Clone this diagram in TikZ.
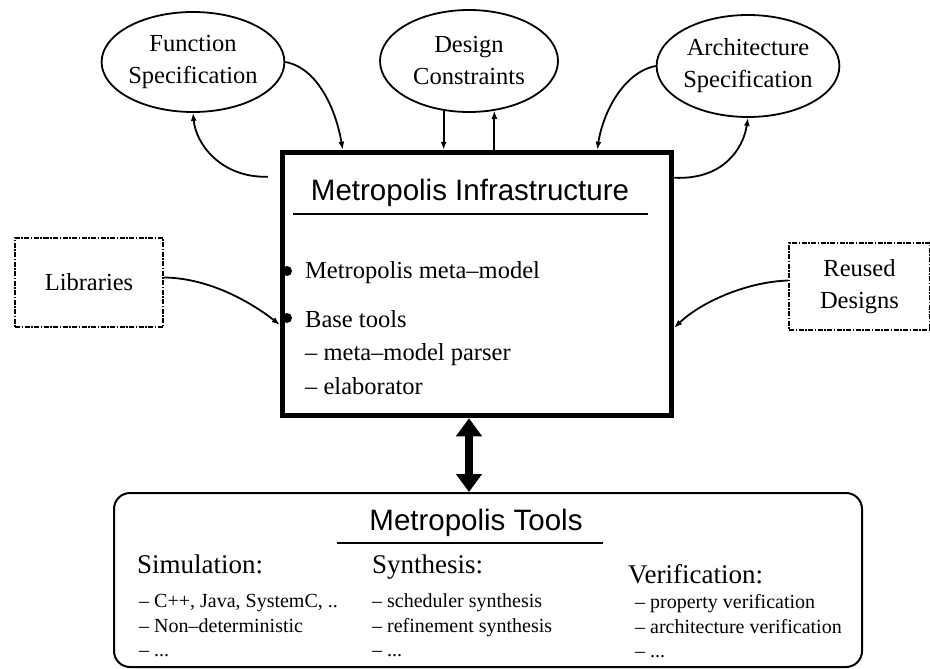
\documentclass[tikz,border=0pt]{standalone}
\usepackage{fontspec}
\setmainfont{Liberation Serif}
\newfontfamily\hvfont{Liberation Sans}
\usetikzlibrary{arrows.meta,shapes.geometric}
\begin{document}
\begin{tikzpicture}[x=1pt,y=-1pt,
 ell/.style={draw,ellipse,line width=1.8pt,minimum width=178pt,minimum height=100pt,inner sep=0pt,align=center,font=\fontsize{24.5}{32}\selectfont},
 dbox/.style={draw,line width=1.8pt,dash pattern=on 5pt off 1.5pt on 1.5pt off 1.5pt,inner sep=0pt,align=center,font=\fontsize{24.5}{32}\selectfont},
 conn/.style={line width=1.8pt,-{Latex[length=8pt,width=6pt]}},
 big/.style={inner sep=0pt,anchor=base,font=\hvfont\fontsize{29.5}{34}\selectfont},
 item/.style={anchor=base west,inner sep=0pt,font=\fontsize{24.5}{28}\selectfont},
 head/.style={anchor=base west,inner sep=0pt,font=\fontsize{27}{30}\selectfont},
 sub/.style={anchor=base west,inner sep=0pt,font=\fontsize{20}{24}\selectfont},
]
\useasboundingbox (0,0) rectangle (930,669);

% top ellipses
\node[ell,minimum width=180pt] (fs) at (193,62) {Function\\Specification};
\node[ell,minimum height=102pt] (dc) at (469,61) {Design\\Constraints};
\node[ell,minimum height=102pt] (as) at (748,66) {Architecture\\Specification};

% main box
\node[draw,line width=5.5pt,minimum width=389pt,minimum height=263pt,inner sep=0pt] (main) at (477,284) {};
\node[big] (mtitle) at (470,200) {Metropolis Infrastructure};
\coordinate (ul1) at (293,214);
\coordinate (ur1) at (648,214);
\draw[line width=1.8pt] (ul1) -- (ur1);

\fill (287,271) circle (5pt);
\fill (287,318) circle (5pt);
\node[item] (i1) at (305,278) {Metropolis meta–model};
\node[item] (i2) at (305,327) {Base tools};
\node[item] (i3) at (305,360) {– meta–model parser};
\node[item] (i4) at (305,394) {– elaborator};

% side boxes
\node[dbox,minimum width=148pt,minimum height=89pt] (lib) at (89,282.5) {Libraries};
\node[dbox,minimum width=141pt,minimum height=87pt,text width=100pt] (reu) at (859.5,286.5) {Reused\\Designs};

% tools box
\node[draw,line width=2pt,rounded corners=16pt,minimum width=748pt,minimum height=174pt,inner sep=0pt] (tools) at (488,580) {};
\node[big] (ttitle) at (476,530) {Metropolis Tools};
\coordinate (ul2) at (337,543);
\coordinate (ur2) at (603,543);
\draw[line width=1.8pt] (ul2) -- (ur2);

\node[head] (h1) at (137,573) {Simulation:};
\node[sub] (s11) at (139,607) {– C++, Java, SystemC, ..};
\node[sub] (s12) at (139,632) {– Non–deterministic};
\node[sub] (s13) at (139,656) {– ...};

\node[head] (h2) at (372,573) {Synthesis:};
\node[sub] (s21) at (372,607) {– scheduler synthesis};
\node[sub] (s22) at (372,632) {– refinement synthesis};
\node[sub] (s23) at (372,656) {– ...};

\node[head] (h3) at (628,583) {Verification:};
\node[sub] (s31) at (635,608) {– property verification};
\node[sub] (s32) at (635,633) {– architecture verification};
\node[sub] (s33) at (635,657) {– ...};

% connectors
\draw[conn] (fs.east) .. controls (318,68) and (336,110) .. ([xshift=63pt]main.north west);
\draw[conn] ([xshift=-12pt,yshift=-27pt]main.north west) .. controls (222,178) and (196,145) .. (fs.south);
\draw[conn] (dc.-117) -- (dc.-117 |- main.north);
\draw[conn] (dc.-63 |- main.north) -- (dc.-63);
\draw[conn] (as.west) .. controls (624,72) and (603,112) .. ([xshift=-77pt]main.north east);
\draw[conn] ([yshift=-28pt]main.north east) .. controls (722,180) and (743,150) .. (as.south);
\draw[conn] ([yshift=5pt]lib.east) .. controls (210,278) and (252,303) .. ([yshift=-175pt]main.north west);
\draw[conn] ([yshift=6pt]reu.west) .. controls (745,282) and (700,303) .. ([yshift=-178pt]main.north east);
\draw[line width=8pt,{Triangle[width=25pt,length=18pt]}-{Triangle[width=25pt,length=18pt]}] (main.south -| dc.center) -- (tools.north -| dc.center);
\end{tikzpicture}
\end{document}
